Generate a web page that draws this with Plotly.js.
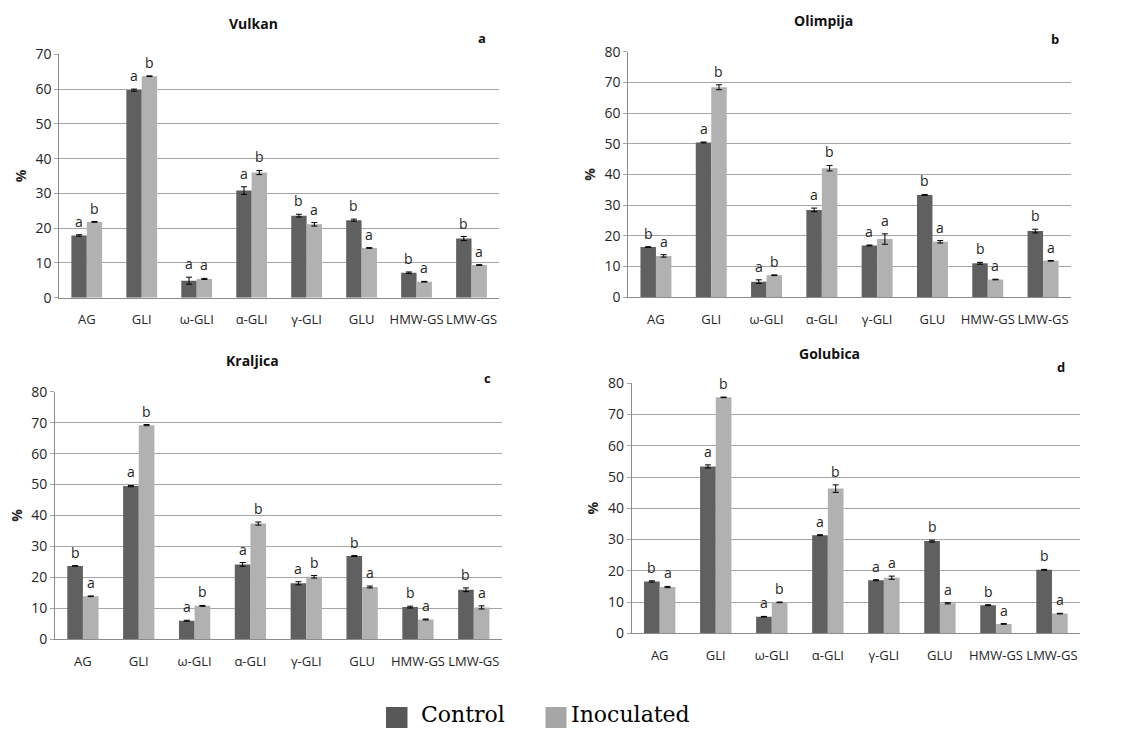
<!DOCTYPE html>
<html>
<head>
<meta charset="utf-8">
<script src="https://cdn.plot.ly/plotly-3.0.1.min.js"></script>
<style>html,body{margin:0;padding:0;background:#fff;}#chart{width:1122px;height:729px;}</style>
</head>
<body>
<div id="chart"></div>
<script>
// ---------------- data ----------------
const categories = ["AG", "GLI", "ω-GLI", "α-GLI", "γ-GLI", "GLU", "HMW-GS", "LMW-GS"];
const seriesNames = ["Control", "Inoculated"];
const panelTitles = ["Vulkan", "Olimpija", "Kraljica", "Golubica"];
const panelLetters = ["a", "b", "c", "d"];

// Vulkan
const vulkanControl    = [17.9, 59.7, 4.9, 30.8, 23.6, 22.3, 7.2, 17.0];
const vulkanControlErr = [0.2, 0.3, 1.0, 1.1, 0.4, 0.3, 0.2, 0.6];
const vulkanInoc       = [21.8, 63.7, 5.4, 36.0, 21.1, 14.3, 4.6, 9.4];
const vulkanInocErr    = [0.1, 0.1, 0.15, 0.6, 0.5, 0.1, 0.1, 0.1];
const vulkanCtrlLetters = ["a", "a", "a", "a", "b", "b", "b", "b"];
const vulkanInocLetters = ["b", "b", "a", "b", "a", "a", "a", "a"];

// Olimpija
const olimpijaControl    = [16.3, 50.4, 5.0, 28.4, 16.8, 33.3, 11.0, 21.5];
const olimpijaControlErr = [0.1, 0.15, 0.6, 0.6, 0.15, 0.15, 0.3, 0.6];
const olimpijaInoc       = [13.4, 68.4, 7.1, 42.0, 18.9, 18.0, 5.7, 11.8];
const olimpijaInocErr    = [0.4, 0.8, 0.1, 0.9, 1.7, 0.4, 0.1, 0.1];
const olimpijaCtrlLetters = ["b", "a", "a", "a", "a", "b", "b", "b"];
const olimpijaInocLetters = ["a", "b", "b", "b", "a", "a", "a", "a"];

// Kraljica
const kraljicaControl    = [23.7, 49.5, 6.0, 24.2, 18.1, 26.9, 10.4, 16.0];
const kraljicaControlErr = [0.1, 0.2, 0.15, 0.6, 0.5, 0.15, 0.3, 0.6];
const kraljicaInoc       = [13.9, 69.2, 10.8, 37.4, 20.2, 16.9, 6.4, 10.3];
const kraljicaInocErr    = [0.1, 0.2, 0.15, 0.5, 0.4, 0.3, 0.15, 0.5];
const kraljicaCtrlLetters = ["b", "a", "a", "a", "a", "b", "b", "b"];
const kraljicaInocLetters = ["a", "b", "b", "b", "b", "a", "a", "a"];

// Golubica
const golubicaControl    = [16.6, 53.4, 5.3, 31.4, 17.0, 29.5, 9.0, 20.3];
const golubicaControlErr = [0.2, 0.5, 0.1, 0.15, 0.15, 0.3, 0.15, 0.15];
const golubicaInoc       = [14.8, 75.5, 9.9, 46.3, 17.8, 9.6, 3.0, 6.3];
const golubicaInocErr    = [0.2, 0.1, 0.1, 1.2, 0.5, 0.2, 0.1, 0.1];
const golubicaCtrlLetters = ["b", "a", "a", "a", "a", "b", "b", "b"];
const golubicaInocLetters = ["a", "b", "b", "b", "a", "a", "a", "a"];

const yMax = [70, 80, 80, 80];

// ---------------- layout helpers ----------------
const W = 1122, H = 729;
const px = x => x / W;
const py = y => 1 - y / H;

const panels = [
  {c: vulkanControl, ce: vulkanControlErr, i: vulkanInoc, ie: vulkanInocErr, cl: vulkanCtrlLetters, il: vulkanInocLetters,
   box: [59.3, 499, 54.3, 297.7], title: [253, 24], letter: [482, 38]},
  {c: olimpijaControl, ce: olimpijaControlErr, i: olimpijaInoc, ie: olimpijaInocErr, cl: olimpijaCtrlLetters, il: olimpijaInocLetters,
   box: [628.3, 1070.7, 51.7, 297], title: [823, 21], letter: [1055, 39]},
  {c: kraljicaControl, ce: kraljicaControlErr, i: kraljicaInoc, ie: kraljicaInocErr, cl: kraljicaCtrlLetters, il: kraljicaInocLetters,
   box: [55, 501.7, 391.7, 639.3], title: [252.5, 361], letter: [487, 378]},
  {c: golubicaControl, ce: golubicaControlErr, i: golubicaInoc, ie: golubicaInocErr, cl: golubicaCtrlLetters, il: golubicaInocLetters,
   box: [631.7, 1080, 383.3, 633.3], title: [829, 353], letter: [1061, 367]}
];

const colControl = "#606060";
const colInoc = "#b1b1b1";
const gridCol = "#a6a6a6";
const textCol = "#262626";
const xTickFont = {family: "Open Sans, sans-serif", size: 13, color: textCol};
const yTickFont = {family: "Open Sans, sans-serif", size: 14, color: textCol};
const letterFont = {family: "Open Sans, sans-serif", size: 14, color: textCol};
const bargap = 0.44;
const half = (1 - bargap) / 4; // offset of each bar centre from category centre

const data = [];
const annotations = [];
const layout = {
  width: W, height: H,
  margin: {l: 0, r: 0, t: 0, b: 0},
  paper_bgcolor: "#ffffff", plot_bgcolor: "#ffffff",
  barmode: "group", bargap: bargap, bargroupgap: 0,
  showlegend: false,
  font: {family: "Open Sans, sans-serif", color: textCol},
  annotations: annotations,
  shapes: []
};

panels.forEach((p, k) => {
  const sfx = k === 0 ? "" : String(k + 1);
  const xa = "x" + sfx, ya = "y" + sfx;
  data.push({
    type: "bar", name: seriesNames[0], x: categories, y: p.c,
    xaxis: xa, yaxis: ya, marker: {color: colControl},
    error_y: {type: "data", array: p.ce, visible: true, color: "#000", thickness: 1, width: 3}
  });
  data.push({
    type: "bar", name: seriesNames[1], x: categories, y: p.i,
    xaxis: xa, yaxis: ya, marker: {color: colInoc},
    error_y: {type: "data", array: p.ie, visible: true, color: "#000", thickness: 1, width: 3}
  });
  layout["xaxis" + sfx] = {
    domain: [px(p.box[0]), px(p.box[1])], anchor: ya,
    type: "category", categoryorder: "array", categoryarray: categories,
    range: [-0.5, categories.length - 0.5],
    showline: true, linecolor: "#8c8c8c", linewidth: 1,
    showgrid: false, ticks: "", ticklabelstandoff: 10,
    tickfont: xTickFont, fixedrange: true
  };
  layout["yaxis" + sfx] = {
    domain: [py(p.box[3]), py(p.box[2])], anchor: xa,
    range: [0, yMax[k]], dtick: 10,
    showline: true, linecolor: "#8c8c8c", linewidth: 1,
    showgrid: true, gridcolor: gridCol, gridwidth: 1,
    zeroline: false,
    ticks: "outside", ticklen: 4, tickcolor: gridCol,
    tickfont: yTickFont,
    title: {text: "<b>%</b>", font: {family: "Open Sans, sans-serif", size: 14, color: textCol}, standoff: 5},
    fixedrange: true
  };
  // significance letters above error bars
  categories.forEach((cat, j) => {
    annotations.push({xref: xa, yref: ya, x: j - half, y: p.c[j] + p.ce[j], text: p.cl[j],
      showarrow: false, yanchor: "bottom", yshift: 2, font: letterFont});
    annotations.push({xref: xa, yref: ya, x: j + half, y: p.i[j] + p.ie[j], text: p.il[j],
      showarrow: false, yanchor: "bottom", yshift: 2, font: letterFont});
  });
  // panel title and panel letter
  annotations.push({xref: "paper", yref: "paper", x: px(p.title[0]), y: py(p.title[1]), text: "<b>" + panelTitles[k] + "</b>",
    showarrow: false, xanchor: "center", yanchor: "middle", font: {family: "Open Sans, sans-serif", size: 14, color: "#111"}});
  annotations.push({xref: "paper", yref: "paper", x: px(p.letter[0]), y: py(p.letter[1]), text: "<b>" + panelLetters[k] + "</b>",
    showarrow: false, xanchor: "center", yanchor: "middle", font: {family: "Open Sans, sans-serif", size: 13, color: "#111"}});
});

// bottom legend
const legendItems = [
  {sq: [386, 407.5], tx: 419, col: "#585858"},
  {sq: [545.5, 566.5], tx: 569, col: "#a6a6a6"}
];
legendItems.forEach((it, k) => {
  layout.shapes.push({type: "rect", xref: "paper", yref: "paper",
    x0: px(it.sq[0]), x1: px(it.sq[1]), y0: py(728), y1: py(707),
    fillcolor: it.col, line: {width: 0}});
  annotations.push({xref: "paper", yref: "paper", x: px(it.tx), y: py(714), text: seriesNames[k],
    showarrow: false, xanchor: "left", yanchor: "middle",
    font: {family: "DejaVu Serif, serif", size: 22, color: "#000"}});
});

Plotly.newPlot("chart", data, layout, {displayModeBar: false, staticPlot: true});
</script>
</body>
</html>
